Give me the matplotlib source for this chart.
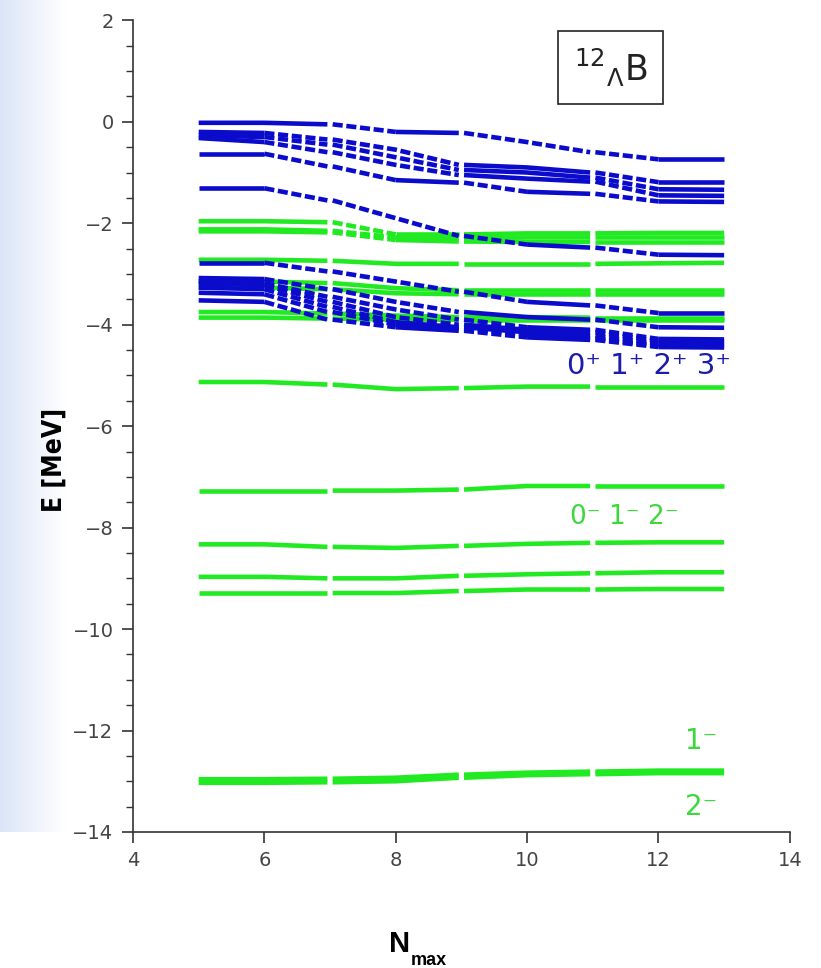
import numpy as np
import matplotlib
matplotlib.use("Agg")
import matplotlib.pyplot as plt
from matplotlib.ticker import MultipleLocator

# N_max nodes where each level is sampled
nmax = [5, 6, 7, 8, 9, 10, 11, 12, 13]

# positive parity levels (blue), E in MeV at each node
blue_levels = [
    [-0.02, -0.02, -0.05, -0.20, -0.22, -0.40, -0.60, -0.74, -0.74],
    [-0.20, -0.22, -0.35, -0.55, -0.85, -0.90, -1.00, -1.19, -1.19],
    [-0.27, -0.30, -0.45, -0.70, -0.95, -1.00, -1.10, -1.33, -1.34],
    [-0.32, -0.40, -0.60, -0.85, -1.05, -1.12, -1.18, -1.45, -1.46],
    [-0.63, -0.63, -0.88, -1.15, -1.20, -1.38, -1.42, -1.57, -1.58],
    [-1.31, -1.31, -1.55, -1.90, -2.25, -2.42, -2.48, -2.62, -2.63],
    [-2.78, -2.78, -2.95, -3.15, -3.35, -3.55, -3.62, -3.77, -3.77],
    [-3.08, -3.10, -3.30, -3.55, -3.75, -3.85, -3.90, -4.05, -4.06],
    [-3.15, -3.18, -3.45, -3.70, -3.90, -4.05, -4.10, -4.28, -4.29],
    [-3.19, -3.22, -3.55, -3.85, -4.00, -4.10, -4.15, -4.32, -4.33],
    [-3.27, -3.30, -3.65, -3.95, -4.05, -4.15, -4.22, -4.37, -4.38],
    [-3.37, -3.40, -3.75, -4.00, -4.08, -4.20, -4.27, -4.41, -4.42],
    [-3.52, -3.55, -3.90, -4.05, -4.12, -4.25, -4.30, -4.44, -4.45],
]

# negative parity levels (green)
green_levels = [
    [-1.96, -1.96, -1.98, -2.22, -2.22, -2.20, -2.20, -2.19, -2.19],
    [-2.12, -2.12, -2.15, -2.28, -2.30, -2.28, -2.28, -2.28, -2.28],
    [-2.16, -2.16, -2.18, -2.33, -2.36, -2.37, -2.37, -2.37, -2.37],
    [-2.72, -2.72, -2.74, -2.80, -2.80, -2.80, -2.80, -2.79, -2.78],
    [-3.15, -3.15, -3.18, -3.28, -3.32, -3.32, -3.32, -3.32, -3.32],
    [-3.27, -3.27, -3.30, -3.38, -3.40, -3.40, -3.40, -3.40, -3.40],
    [-3.75, -3.75, -3.78, -3.82, -3.85, -3.85, -3.86, -3.86, -3.86],
    [-3.86, -3.86, -3.88, -3.90, -3.90, -3.90, -3.90, -3.90, -3.90],
    [-5.13, -5.13, -5.18, -5.27, -5.25, -5.22, -5.22, -5.22, -5.22],
    [-7.27, -7.27, -7.27, -7.27, -7.25, -7.18, -7.18, -7.18, -7.18],
    [-8.33, -8.33, -8.38, -8.40, -8.36, -8.32, -8.30, -8.29, -8.29],
    [-8.97, -8.97, -9.00, -9.00, -8.95, -8.92, -8.90, -8.88, -8.88],
    [-9.29, -9.29, -9.29, -9.29, -9.25, -9.22, -9.22, -9.21, -9.21],
    [-12.96, -12.96, -12.95, -12.93, -12.87, -12.83, -12.81, -12.79, -12.79],
    [-13.03, -13.03, -13.02, -13.00, -12.93, -12.88, -12.86, -12.84, -12.84],
]

BLUE = "#0b0bcc"
GREEN = "#22ea22"
LABEL_GREEN = "#3ed83e"
blocks = [(0, 2), (2, 4), (4, 6), (6, 8)]   # node index ranges of each N_max block
GAP = 0.04


def draw_level(ax, e, color):
    for a, b in blocks:
        xs = [float(x) for x in nmax[a:b + 1]]
        ys = e[a:b + 1]
        if a > 0:
            xs[0] += GAP
        if b < len(nmax) - 1:
            xs[-1] -= GAP
        # split into runs of flat (solid) and sloped (dashed) pieces
        i = 0
        while i < len(xs) - 1:
            steep = abs(ys[i + 1] - ys[i]) > 0.12
            j = i + 1
            while j < len(xs) - 1 and (abs(ys[j + 1] - ys[j]) > 0.12) == steep:
                j += 1
            if steep:
                ax.plot(xs[i:j + 1], ys[i:j + 1], color=color, lw=3.3,
                        dashes=(2.2, 0.8), solid_capstyle="butt",
                        dash_capstyle="butt")
            else:
                ax.plot(xs[i:j + 1], ys[i:j + 1], color=color, lw=3.3,
                        solid_capstyle="butt", solid_joinstyle="miter")
            i = j


fig = plt.figure(figsize=(8.21, 9.68), dpi=100)

# faint slide background on the left edge
bg = fig.add_axes([0, 0.14, 0.08, 0.86], zorder=-5)
grad = np.linspace(0, 1, 100)[None, :]
bg.imshow(grad, aspect="auto", cmap=matplotlib.colors.LinearSegmentedColormap.from_list(
    "bgc", ["#dbe5f7", "#ffffff"]), extent=[0, 1, 0, 1])
bg.axis("off")

ax = fig.add_axes([0.162, 0.1405, 0.8, 0.8385])
ax.patch.set_alpha(0)

for e in green_levels:
    draw_level(ax, e, GREEN)
for e in blue_levels:
    draw_level(ax, e, BLUE)

ax.set_xlim(4, 14)
ax.set_ylim(-14, 2)
ax.spines["top"].set_visible(False)
ax.spines["right"].set_visible(False)
for s in ("left", "bottom"):
    ax.spines[s].set_color("#333333")
    ax.spines[s].set_linewidth(1.2)

ax.xaxis.set_major_locator(MultipleLocator(2))
ax.yaxis.set_major_locator(MultipleLocator(2))
ax.yaxis.set_minor_locator(MultipleLocator(0.5))
ax.tick_params(axis="both", which="major", direction="out", length=8, width=1.2,
               color="#333333", labelsize=14, labelcolor="#444444", pad=6)
ax.tick_params(axis="y", which="minor", direction="out", length=5, width=1.0,
               color="#333333")

fig.text(0.067, 0.525, "E [MeV]", rotation=90, ha="center", va="center",
         fontsize=19, fontweight="bold", family="DejaVu Sans", stretch="condensed")
fig.text(0.487, 0.017, "N", ha="center", va="baseline", fontsize=21,
         fontweight="bold", family="Liberation Sans")
fig.text(0.5, 0.003, "max", ha="left", va="baseline", fontsize=13,
         fontweight="bold", family="Liberation Sans")

ax.text(11.27, 1.07, r"$^{12}{}_{\Lambda}$B", fontsize=25, ha="center", va="center",
        color="#222222",
        bbox=dict(boxstyle="square,pad=0.45", fc="white", ec="#222222", lw=1.2))

ax.text(13.1, -4.82, "0\u207a 1\u207a 2\u207a 3\u207a", color="#1c1ca8",
        fontsize=21, ha="right", va="center")
ax.text(12.3, -7.8, "0\u207b 1\u207b 2\u207b", color=LABEL_GREEN,
        fontsize=19, ha="right", va="center")
ax.text(12.9, -12.2, "1\u207b", color=LABEL_GREEN, fontsize=20, ha="right", va="center")
ax.text(12.9, -13.5, "2\u207b", color=LABEL_GREEN, fontsize=20, ha="right", va="center")

fig.savefig("out.png", dpi=100)
